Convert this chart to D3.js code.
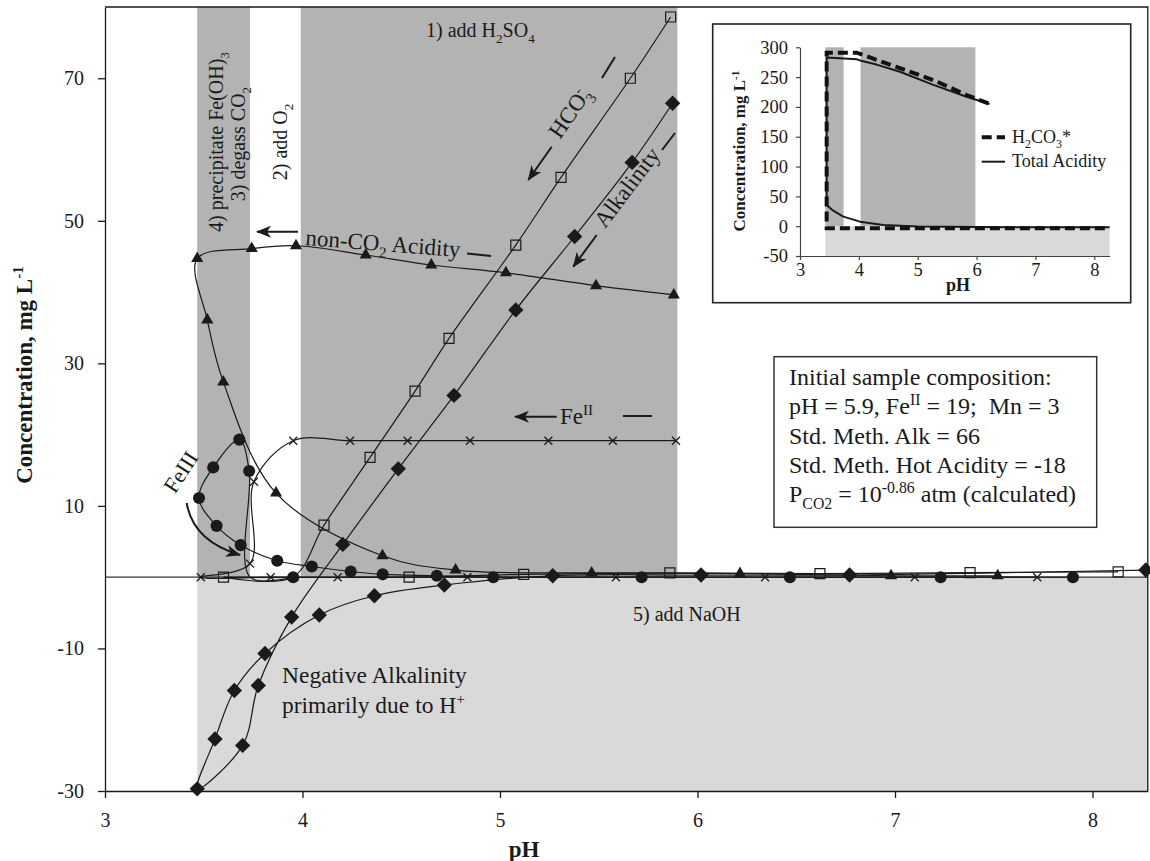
<!DOCTYPE html>
<html><head><meta charset="utf-8">
<script src="https://cdn.jsdelivr.net/npm/d3@7"></script>
<style>
body{margin:0;background:#fff;}
svg{display:block;}
svg text{font-family:"Liberation Serif","DejaVu Serif",serif;fill:#1a1a1a;white-space:pre;}
</style></head><body>
<svg id="c" width="1150" height="861" font-family="Liberation Serif"></svg>
<script>
// ---------- DATA ----------
const xTicks = [3, 4, 5, 6, 7, 8];
const yTicks = [-30, -10, 10, 30, 50, 70];
const xDomain = [3, 8.28];
const yDomain = [-30, 80];
const darkBands = [[3.467, 3.734], [3.991, 5.898]];   // pH ranges (above 0)
const lightBand = [3.467, 8.28];                      // pH range (below 0)

// non-CO2 acidity (filled triangles)
const acidPH   = [5.88, 5.486, 5.03, 4.652, 4.32, 3.967, 3.743, 3.467, 3.518, 3.599, 3.866, 4.405, 4.775, 5.464, 6.215, 6.98, 7.52];
const acidConc = [39.6, 40.9, 42.7, 43.8, 45.2, 46.5, 46.1, 44.7, 36.1, 27.4, 11.8, 3.0, 1.0, 0.6, 0.5, 0.2, 0.2];

// HCO3- (open squares)
const hco3PH   = [5.864, 5.66, 5.309, 5.08, 4.742, 4.57, 4.342, 4.109, 3.95, 3.6, 4.54, 5.12, 5.86, 6.62, 7.38, 8.13];
const hco3Conc = [78.6, 70.0, 56.1, 46.6, 33.5, 26.1, 16.8, 7.3, 0, 0, 0, 0.4, 0.6, 0.5, 0.65, 0.75];
const hco3Unmarked = [8];

// Alkalinity (filled diamonds)
const alkPH   = [5.874, 5.669, 5.378, 5.08, 4.767, 4.485, 4.204, 3.945, 3.776, 3.697, 3.467, 3.557, 3.655, 3.81, 4.085, 4.364, 4.718, 5.267, 6.018, 6.77, 8.27];
const alkConc = [66.5, 58.2, 47.8, 37.5, 25.5, 15.2, 4.6, -5.6, -15.2, -23.6, -29.7, -22.7, -15.9, -10.7, -5.3, -2.6, -1.1, 0.2, 0.3, 0.3, 1.0];

// Fe II (crosses)
const fe2PH   = [5.891, 5.571, 5.245, 4.848, 4.532, 4.241, 3.953, 3.754, 3.734, 3.485, 3.839, 4.178, 4.835, 5.587, 6.342, 7.10, 7.72];
const fe2Conc = [19.15, 19.15, 19.15, 19.15, 19.15, 19.15, 19.15, 13.4, 1.9, 0, 0, 0, 0, 0, 0, 0, 0];

// Fe III (filled circles)
const fe3PH   = [3.953, 3.735, 3.73, 3.68, 3.548, 3.476, 3.565, 3.687, 3.872, 4.047, 4.244, 4.406, 4.68, 4.966, 5.717, 6.468, 7.231, 7.901];
const fe3Conc = [0, 0, 14.9, 19.3, 15.4, 11.1, 7.2, 4.5, 2.3, 1.5, 0.8, 0.4, 0.2, 0, 0, 0, 0, 0];
const fe3Unmarked = [1];

// Inset
const insetXTicks = [3, 4, 5, 6, 7, 8];
const insetYTicks = [-50, 0, 50, 100, 150, 200, 250, 300];
const insetXDomain = [3, 8.26];
const insetYDomain = [-50, 300];
const insetDarkBands = [[3.43, 3.74], [4.03, 5.98]];
const insetLightBand = [3.43, 8.26];
const h2co3PH   = [6.2, 5.83, 5.265, 4.699, 4.3, 4.02, 3.963, 3.453, 3.453, 8.26];
const h2co3Conc = [206, 220, 245, 265, 279, 289, 291, 291, -3.5, -3.5];
const totAcPH   = [6.22, 5.83, 5.265, 4.699, 4.3, 4.02, 3.963, 3.453, 3.453, 3.55, 3.736, 4.019, 4.415, 5.0, 6.0, 8.26];
const totAcConc = [205, 217, 237, 259, 271, 278, 280, 282.7, 35.6, 27, 16, 7.6, 2, -0.7, -1.5, -1.8];

// ---------- DRAWING ----------
const svg = d3.select('#c');
const ink = '#1a1a1a';
const FONT = '"Liberation Serif","DejaVu Serif",serif';
const x = d3.scaleLinear().domain(xDomain).range([105, 1147.8]);
const y = d3.scaleLinear().domain(yDomain).range([791, 7]);
const zip = (a, b) => a.map((v, i) => [v, b[i]]);

// arrow marker
const defs = svg.append('defs');
defs.append('marker').attr('id', 'ah').attr('markerUnits', 'userSpaceOnUse')
  .attr('markerWidth', 16).attr('markerHeight', 12).attr('refX', 14).attr('refY', 6)
  .attr('orient', 'auto')
  .append('path').attr('d', 'M0,0 L15,6 L0,12 L4,6 Z').attr('fill', ink);

// bands
const g = svg.append('g');
g.selectAll('rect.dark').data(darkBands).join('rect').attr('class', 'dark')
  .attr('x', d => x(d[0])).attr('width', d => x(d[1]) - x(d[0]))
  .attr('y', y(yDomain[1])).attr('height', y(0) - y(yDomain[1])).attr('fill', '#b3b3b3');
g.append('rect').attr('x', x(lightBand[0])).attr('width', x(lightBand[1]) - x(lightBand[0]))
  .attr('y', y(0)).attr('height', y(yDomain[0]) - y(0)).attr('fill', '#d9d9d9');

// zero line
g.append('line').attr('x1', x(xDomain[0])).attr('x2', x(xDomain[1])).attr('y1', y(0)).attr('y2', y(0))
  .attr('stroke', '#333').attr('stroke-width', 1.3);

const line = d3.line().x(d => x(d[0])).y(d => y(d[1])).curve(d3.curveCatmullRom.alpha(0.5));
const series = [
  {pts: zip(acidPH, acidConc), sym: 'tri', skip: []},
  {pts: zip(hco3PH, hco3Conc), sym: 'sq', skip: hco3Unmarked},
  {pts: zip(alkPH, alkConc), sym: 'dia', skip: []},
  {pts: zip(fe2PH, fe2Conc), sym: 'x', skip: []},
  {pts: zip(fe3PH, fe3Conc), sym: 'circ', skip: fe3Unmarked},
];
series.forEach(s => {
  g.append('path').attr('d', line(s.pts)).attr('fill', 'none').attr('stroke', ink).attr('stroke-width', 1.2);
});
const symX = {draw(ctx, size) { const r = Math.sqrt(size) / 2; ctx.moveTo(-r, -r); ctx.lineTo(r, r); ctx.moveTo(r, -r); ctx.lineTo(-r, r); }};
series.forEach(s => {
  const pts = s.pts.filter((d, i) => !s.skip.includes(i));
  const sel = g.append('g').selectAll('path').data(pts).join('path')
    .attr('transform', d => `translate(${x(d[0])},${y(d[1])})` + (s.sym === 'dia' ? ' rotate(45)' : ''));
  if (s.sym === 'tri') sel.attr('d', d3.symbol(d3.symbolTriangle, 64)).attr('fill', ink);
  if (s.sym === 'sq') sel.attr('d', d3.symbol(d3.symbolSquare, 100)).attr('fill', 'none').attr('stroke', ink).attr('stroke-width', 1.2);
  if (s.sym === 'dia') sel.attr('d', d3.symbol(d3.symbolSquare, 118)).attr('fill', ink);
  if (s.sym === 'circ') sel.attr('d', d3.symbol(d3.symbolCircle, 115)).attr('fill', ink);
  if (s.sym === 'x') sel.attr('d', d3.symbol(symX, 64)).attr('fill', 'none').attr('stroke', ink).attr('stroke-width', 1.3);
});

// ---------- text helper ----------
function rich(t, parts, fs) {
  let shift = 0;
  parts.forEach(p => {
    const [s, mode, dx] = p;
    const target = mode === 'sub' ? fs * 0.28 : mode === 'sup' ? -fs * 0.38 : 0;
    const ts = t.append('tspan').attr('dy', target - shift).text(s);
    if (dx) ts.attr('dx', dx);
    if (mode) ts.attr('font-size', fs * 0.66);
    shift = target;
  });
  return t;
}
function label(px, py, parts, fs, opts = {}) {
  const t = svg.append('text').attr('font-size', fs).attr('font-family', FONT)
    .attr('transform', `translate(${px},${py})` + (opts.rot ? ` rotate(${opts.rot})` : ''))
    .attr('text-anchor', opts.anchor || 'start');
  if (opts.bold) t.attr('font-weight', 'bold');
  if (opts.dy) t.attr('dy', opts.dy);
  return rich(t, parts, fs);
}
function seg(x1, y1, x2, y2, arrow) {
  const l = svg.append('line').attr('x1', x1).attr('y1', y1).attr('x2', x2).attr('y2', y2)
    .attr('stroke', ink).attr('stroke-width', 2);
  if (arrow) l.attr('marker-end', 'url(#ah)');
}

// process labels
label(426, 37, [['1) add H'], ['2', 'sub'], ['SO'], ['4', 'sub']], 20);
label(223, 142, [['4) precipitate Fe(OH)'], ['3', 'sub']], 20, {rot: -90, anchor: 'middle'});
label(245, 144, [['3) degass CO'], ['2', 'sub']], 20, {rot: -90, anchor: 'middle'});
label(287, 142, [['2) add O'], ['2', 'sub']], 20, {rot: -90, anchor: 'middle'});
label(633, 621, [['5) add NaOH']], 20);

// curve labels
label(305, 245, [['non-CO'], ['2', 'sub'], [' Acidity']], 23, {rot: 4.5});
seg(298, 231.7, 257, 231.7, true);
seg(467, 253.5, 491, 256);
label(576, 117, [['HCO'], ['3', 'sub'], ['-', 'sup', -8]], 23, {rot: -55, anchor: 'middle', dy: '0.35em'});
seg(551.7, 146.7, 528.3, 180, true);
seg(602, 78, 615, 57);
label(633, 192, [['Alkalinity']], 23, {rot: -53, anchor: 'middle', dy: '0.35em'});
seg(596.7, 235, 573.3, 266.7, true);
seg(662, 150, 675, 133);
seg(556.7, 416.7, 515, 416.7, true);
label(560, 424, [['Fe'], ['II', 'sup']], 23);
seg(623, 416, 652, 416);
label(187, 476, [['FeIII']], 22, {rot: -57, anchor: 'middle', dy: '0.35em'});
svg.append('path').attr('d', 'M186.7,503 Q193,541 240,555').attr('fill', 'none')
  .attr('stroke', ink).attr('stroke-width', 2).attr('marker-end', 'url(#ah)');

label(282, 683, [['Negative Alkalinity']], 23.5);
label(282, 713, [['primarily due to H'], ['+', 'sup']], 23.5);

// info box
svg.append('rect').attr('x', 774).attr('y', 356.7).attr('width', 322.7).attr('height', 170.6)
  .attr('fill', 'white').attr('stroke', '#333').attr('stroke-width', 1.5);
label(789, 385, [['Initial sample composition:']], 24);
label(789, 414, [['pH = 5.9, Fe'], ['II', 'sup'], [' = 19;  Mn = 3']], 24);
label(789, 443.5, [['Std. Meth. Alk = 66']], 24);
label(789, 473, [['Std. Meth. Hot Acidity = -18']], 24);
label(789, 502, [['P'], ['CO2', 'sub'], [' = 10'], ['-0.86', 'sup'], [' atm (calculated)']], 24);

// axes
const fmt = d => String(d);
const ax = svg.append('g').attr('transform', `translate(0,${y(yDomain[0])})`)
  .call(d3.axisBottom(x).tickValues(xTicks).tickFormat(fmt).tickSize(7).tickSizeOuter(0).tickPadding(15));
const ay = svg.append('g').attr('transform', `translate(${x(xDomain[0])},0)`)
  .call(d3.axisLeft(y).tickValues(yTicks).tickFormat(fmt).tickSize(7).tickSizeOuter(0).tickPadding(14));
[ax, ay].forEach(a => {
  a.attr('font-family', FONT);
  a.selectAll('text').attr('font-size', 20).attr('font-family', FONT).attr('fill', ink);
  a.selectAll('line,path').attr('stroke', ink).attr('stroke-width', 1.3);
});
// frame top/right
svg.append('path').attr('d', `M${x(xDomain[0])},${y(yDomain[1])} H${x(xDomain[1])} V${y(yDomain[0])}`)
  .attr('fill', 'none').attr('stroke', ink).attr('stroke-width', 1.3);

label(524, 857, [['pH']], 23, {bold: true, anchor: 'middle'});
label(32, 375, [['Concentration, mg L'], ['-1', 'sup']], 23, {bold: true, rot: -90, anchor: 'middle'});

// ---------- INSET ----------
svg.append('rect').attr('x', 712.7).attr('y', 24).attr('width', 418).attr('height', 278.7)
  .attr('fill', 'white').attr('stroke', '#222').attr('stroke-width', 1.6);
const ix = d3.scaleLinear().domain(insetXDomain).range([800, 1109.6]);
const iy = d3.scaleLinear().domain(insetYDomain).range([256, 47.3]);
const ig = svg.append('g');
ig.selectAll('rect.dark').data(insetDarkBands).join('rect').attr('class', 'dark')
  .attr('x', d => ix(d[0])).attr('width', d => ix(d[1]) - ix(d[0]))
  .attr('y', iy(insetYDomain[1])).attr('height', iy(0) - iy(insetYDomain[1])).attr('fill', '#b3b3b3');
ig.append('rect').attr('x', ix(insetLightBand[0])).attr('width', ix(insetLightBand[1]) - ix(insetLightBand[0]))
  .attr('y', iy(0)).attr('height', iy(insetYDomain[0]) - iy(0)).attr('fill', '#d9d9d9');
const iline = d3.line().x(d => ix(d[0])).y(d => iy(d[1]));
ig.append('path').attr('d', iline(zip(totAcPH, totAcConc))).attr('fill', 'none').attr('stroke', ink)
  .attr('stroke-width', 2).attr('stroke-linejoin', 'round');
ig.append('path').attr('d', iline(zip(h2co3PH, h2co3Conc))).attr('fill', 'none').attr('stroke', '#111')
  .attr('stroke-width', 4).attr('stroke-dasharray', '10,5');
const iax = svg.append('g').attr('transform', `translate(0,${iy(insetYDomain[0])})`)
  .call(d3.axisBottom(ix).tickValues(insetXTicks).tickFormat(fmt).tickSize(4).tickSizeOuter(0).tickPadding(3));
const iay = svg.append('g').attr('transform', `translate(${ix(insetXDomain[0])},0)`)
  .call(d3.axisLeft(iy).tickValues(insetYTicks).tickFormat(fmt).tickSize(4).tickSizeOuter(0).tickPadding(8));
[iax, iay].forEach(a => {
  a.attr('font-family', FONT);
  a.selectAll('text').attr('font-size', 18.5).attr('font-family', FONT).attr('fill', ink);
  a.selectAll('line,path').attr('stroke', '#444').attr('stroke-width', 1.2);
});
label(958, 291, [['pH']], 18, {bold: true, anchor: 'middle'});
label(745, 151, [['Concentration, mg L'], ['-1', 'sup']], 17, {bold: true, rot: -90, anchor: 'middle'});
// legend
svg.append('line').attr('x1', 981.7).attr('x2', 1005).attr('y1', 137.3).attr('y2', 137.3)
  .attr('stroke', '#111').attr('stroke-width', 4).attr('stroke-dasharray', '10,5');
svg.append('line').attr('x1', 981.7).attr('x2', 1005).attr('y1', 161.7).attr('y2', 161.7)
  .attr('stroke', ink).attr('stroke-width', 2);
label(1012, 143, [['H'], ['2', 'sub'], ['CO'], ['3', 'sub'], ['*']], 18);
label(1012, 167, [['Total Acidity']], 18);
</script>
</body></html>
